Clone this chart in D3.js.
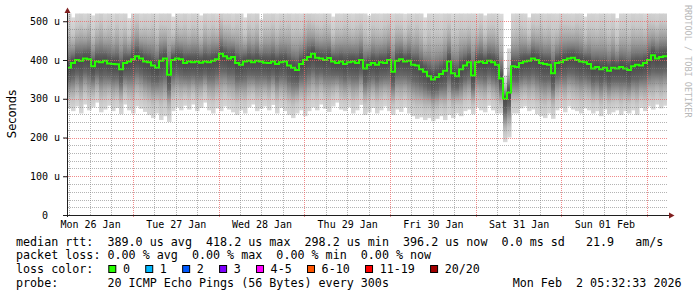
<!DOCTYPE html>
<html>
<head>
<meta charset="utf-8">
<script src="https://cdn.jsdelivr.net/npm/d3@7"></script>
<style>
  body { margin: 0; background: #fff; }
  text { white-space: pre; }
</style>
</head>
<body>
<svg id="chart"></svg>
<script>
const width = 697;
const height = 297;
const plotLeft = 67, plotRight = 667, plotTop = 13.5, plotBottom = 215;
const mono = 'DejaVu Sans Mono, monospace';

const startTime = Date.UTC(2026, 0, 26, 5, 32, 33);
const endTime = Date.UTC(2026, 1, 2, 5, 32, 33);
const yMax = 520;

// median rtt per sample (us), 150 samples over the week
const median = [
  380, 392, 400, 398, 404, 402, 384, 396, 394, 398,
  391, 390, 389, 376, 392, 396, 402, 410, 404, 396,
  394, 386, 380, 398, 404, 362, 400, 404, 402, 392,
  396, 394, 396, 393, 396, 394, 398, 402, 416, 410,
  404, 408, 392, 388, 396, 398, 394, 398, 396, 393,
  392, 396, 390, 394, 396, 386, 380, 374, 390, 400,
  408, 416, 406, 404, 400, 405, 396, 392, 396, 390,
  394, 396, 392, 400, 378, 388, 392, 388, 394, 392,
  400, 370, 398, 402, 396, 398, 388, 386, 376, 370,
  358, 350, 356, 364, 372, 396, 366, 358, 376, 386,
  394, 360, 394, 396, 392, 398, 394, 388, 352, 300,
  316, 384, 382, 392, 396, 398, 404, 400, 392, 390,
  388, 366, 392, 394, 400, 404, 406, 400, 396, 394,
  390, 378, 382, 376, 380, 372, 380, 378, 382, 378,
  374, 384, 388, 386, 392, 400, 412, 404, 408, 410
];

// fastest ping per sample (us)
const pingMin = [
  275, 268, 280, 262, 285, 270, 278, 290, 265, 272,
  282, 268, 276, 260, 285, 270, 262, 280, 274, 266,
  258, 250, 262, 245, 255, 240, 268, 278, 270, 282,
  272, 285, 268, 276, 290, 270, 262, 275, 268, 280,
  272, 265, 258, 270, 262, 278, 285, 268, 274, 280,
  270, 284, 262, 276, 268, 258, 250, 262, 270, 255,
  268, 278, 270, 285, 274, 266, 280, 290, 272, 268,
  278, 262, 270, 284, 258, 265, 276, 262, 270, 280,
  268, 258, 272, 266, 278, 262, 255, 248, 252, 245,
  250, 242, 248, 255, 245, 258, 250, 262, 255, 268,
  272, 260, 278, 270, 265, 282, 270, 262, 262, 188,
  200, 262, 262, 275, 280, 268, 272, 260, 255, 250,
  262, 248, 270, 276, 265, 280, 272, 268, 262, 275,
  270, 262, 268, 255, 272, 260, 265, 270, 258, 268,
  262, 270, 258, 276, 268, 280, 272, 285, 275, 282
];

// slowest ping per sample (us)
const pingMax = [
  540, 510, 535, 545, 530, 550, 515, 540, 560, 530,
  545, 525, 550, 535, 540, 508, 545, 555, 530, 540,
  535, 550, 528, 545, 540, 560, 512, 540, 535, 550,
  530, 545, 540, 515, 550, 535, 545, 530, 560, 540,
  545, 530, 550, 540, 510, 545, 535, 550, 505, 540,
  540, 550, 530, 545, 540, 555, 535, 545, 530, 550,
  560, 545, 540, 535, 550, 545, 512, 540, 535, 550,
  540, 530, 545, 550, 535, 515, 545, 540, 530, 545,
  550, 535, 545, 540, 520, 545, 535, 550, 540, 510,
  545, 535, 540, 530, 545, 550, 525, 540, 545, 535,
  540, 545, 530, 550, 515, 540, 545, 535, 520, 360,
  430, 530, 540, 545, 535, 510, 545, 540, 550, 535,
  545, 540, 530, 550, 545, 540, 535, 550, 545, 512,
  540, 545, 535, 550, 540, 530, 545, 508, 540, 545,
  535, 550, 540, 545, 530, 555, 545, 540, 550, 545
];

const yTickValues = [0, 100, 200, 300, 400, 500];
const yTickLabels = ['0  ', '100 u', '200 u', '300 u', '400 u', '500 u'];

const legendLines = [
  'median rtt:  389.0 us avg  418.2 us max  298.2 us min  396.2 us now  0.0 ms sd   21.9   am/s',
  'packet loss: 0.00 % avg  0.00 % max  0.00 % min  0.00 % now',
  'loss color:',
  'probe:       20 ICMP Echo Pings (56 Bytes) every 300s'
];
const lossLabels = ['0', '1', '2', '3', '4-5', '6-10', '11-19', '20/20'];
const lossColors = ['#26ff00', '#00b8ff', '#0059ff', '#7e00ff', '#ff00ff', '#ff5500', '#ff0000', '#a10000'];
const stampText = 'Mon Feb  2 05:32:33 2026';

const svg = d3.select('#chart')
  .attr('width', width)
  .attr('height', height)
  .style('display', 'block');

svg.append('rect').attr('width', width).attr('height', height).attr('fill', '#fff');

const x = d3.scaleUtc().domain([startTime, endTime]).range([plotLeft, plotRight]);
const y = d3.scaleLinear().domain([0, yMax]).range([plotBottom, plotTop]);

const step = (endTime - startTime) / median.length;
const samples = median.map((m, i) => ({
  t0: new Date(startTime + i * step),
  t1: new Date(startTime + (i + 1) * step),
  med: m,
  lo: pingMin[i],
  hi: pingMax[i]
}));

// smoke gradients: dark near the median, the dark part reaches further down
const defs = svg.append('defs');
const lowStops = [
  [0, '#4a4a4a'], [0.15, '#555555'], [0.3, '#686868'],
  [0.45, '#8a8a8a'], [0.6, '#aaaaaa'], [0.78, '#c6c6c6'], [1, '#d8d8d8']
];
const highStops = [
  [0, '#4a4a4a'], [0.1, '#5a5a5a'], [0.2, '#777777'],
  [0.35, '#9a9a9a'], [0.5, '#b4b4b4'], [0.65, '#c8c8c8'], [1, '#dadada']
];
const gLow = defs.append('linearGradient').attr('id', 'gLow')
  .attr('x1', 0).attr('y1', 0).attr('x2', 0).attr('y2', 1);
gLow.selectAll('stop').data(lowStops).join('stop')
  .attr('offset', d => d[0]).attr('stop-color', d => d[1]);
const gHigh = defs.append('linearGradient').attr('id', 'gHigh')
  .attr('x1', 0).attr('y1', 1).attr('x2', 0).attr('y2', 0);
gHigh.selectAll('stop').data(highStops).join('stop')
  .attr('offset', d => d[0]).attr('stop-color', d => d[1]);

defs.append('clipPath').attr('id', 'plotClip')
  .append('rect')
  .attr('x', plotLeft).attr('y', plotTop)
  .attr('width', plotRight - plotLeft).attr('height', plotBottom - plotTop);

const plot = svg.append('g').attr('clip-path', 'url(#plotClip)');

plot.selectAll('rect.low')
  .data(samples)
  .join('rect')
  .attr('class', 'low')
  .attr('x', d => x(d.t0))
  .attr('width', d => x(d.t1) - x(d.t0) + 0.5)
  .attr('y', d => y(d.med))
  .attr('height', d => y(d.lo) - y(d.med))
  .attr('fill', 'url(#gLow)');

plot.selectAll('rect.high')
  .data(samples)
  .join('rect')
  .attr('class', 'high')
  .attr('x', d => x(d.t0))
  .attr('width', d => x(d.t1) - x(d.t0) + 0.5)
  .attr('y', d => y(d.hi))
  .attr('height', d => y(d.med) - y(d.hi))
  .attr('fill', 'url(#gHigh)');

// grid, drawn as 1px dots so every line comes out the same
const minorColor = 'rgba(130,130,130,0.6)';
const majorColor = 'rgba(235,100,100,0.75)';
const minorY = d3.range(20, yMax, 20).filter(v => v % 100 !== 0);
const days = d3.utcDay.range(new Date(startTime), new Date(endTime));
const sixHours = d3.utcHour.every(6).range(new Date(startTime), new Date(endTime))
  .filter(d => d.getUTCHours() !== 0);

function dotsH(py, x0, x1) {
  return d3.range(x0, x1, 2).map(px => `M${px},${py}h1v1h-1z`).join('');
}
function dotsV(px, y0, y1) {
  return d3.range(y0, y1, 2).map(py => `M${px},${py}h1v1h-1z`).join('');
}

const grid = svg.append('g').attr('stroke', 'none');
grid.selectAll('path.hmin').data(minorY).join('path')
  .attr('class', 'hmin')
  .attr('d', d => dotsH(Math.round(y(d)), plotLeft + 1, plotRight))
  .attr('fill', minorColor);
grid.selectAll('path.vmin').data(sixHours).join('path')
  .attr('class', 'vmin')
  .attr('d', d => dotsV(Math.round(x(d)), 14, plotBottom))
  .attr('fill', minorColor);
grid.selectAll('path.hmaj').data(yTickValues.filter(v => v > 0)).join('path')
  .attr('class', 'hmaj')
  .attr('d', d => dotsH(Math.round(y(d)), plotLeft - 3, plotRight))
  .attr('fill', majorColor);
grid.selectAll('path.vmaj').data(days).join('path')
  .attr('class', 'vmaj')
  .attr('d', d => dotsV(Math.round(x(d)), 14, plotBottom + 3))
  .attr('fill', majorColor);

// median line
const medPoints = samples.map(d => [d.t0, d.med]);
medPoints.push([new Date(endTime), median[median.length - 1]]);
plot.append('path')
  .datum(medPoints)
  .attr('fill', 'none')
  .attr('stroke', lossColors[0])
  .attr('stroke-width', 2)
  .attr('d', d3.line().x(d => x(d[0])).y(d => y(d[1])).curve(d3.curveStepAfter));

// axes
const yAxis = svg.append('g')
  .attr('transform', `translate(${plotLeft},0)`)
  .call(d3.axisLeft(y).tickValues(yTickValues).tickFormat((d, i) => yTickLabels[i])
    .tickSize(4).tickSizeOuter(0).tickPadding(3));
yAxis.select('.domain').remove();
yAxis.selectAll('.tick line').attr('stroke', '#1f1f1f');
yAxis.selectAll('.tick text').attr('font-family', mono).attr('font-size', 10).attr('fill', '#000');

const noons = [d3.utcDay.floor(new Date(startTime))].concat(days)
  .map(d => d3.utcHour.offset(d, 12))
  .filter(d => d >= startTime && d < endTime);
const xAxis = svg.append('g')
  .attr('transform', `translate(0,${plotBottom})`)
  .call(d3.axisBottom(x).tickValues(noons).tickFormat(d3.utcFormat('%a %d %b'))
    .tickSize(0).tickPadding(6));
xAxis.select('.domain').remove();
xAxis.selectAll('.tick text').attr('font-family', mono).attr('font-size', 10).attr('fill', '#000');

svg.append('line')
  .attr('x1', 63).attr('x2', plotRight + 2).attr('y1', plotBottom + 0.5).attr('y2', plotBottom + 0.5)
  .attr('stroke', '#1f1f1f');
svg.append('line')
  .attr('x1', plotLeft + 0.5).attr('x2', plotLeft + 0.5).attr('y1', plotBottom + 2).attr('y2', 12)
  .attr('stroke', '#1f1f1f');
svg.append('path')
  .attr('d', `M${plotRight + 2},${plotBottom - 2.5}L${plotRight + 7.5},${plotBottom + 0.5}L${plotRight + 2},${plotBottom + 3.5}Z`)
  .attr('fill', '#801f1f');
svg.append('path')
  .attr('d', `M${plotLeft - 2.5},13L${plotLeft + 0.5},7.5L${plotLeft + 3.5},13Z`)
  .attr('fill', '#801f1f');

// titles
svg.append('text')
  .attr('transform', 'translate(15.5,114) rotate(-90)')
  .attr('text-anchor', 'middle')
  .attr('font-family', 'DejaVu Sans, sans-serif')
  .attr('font-size', 11.5)
  .attr('fill', '#000')
  .text('Seconds');

svg.append('text')
  .attr('transform', 'translate(684.5,5) rotate(90)')
  .attr('font-family', mono)
  .attr('font-size', 8.5)
  .attr('fill', '#b8b8b8')
  .text('RRDTOOL / TOBI OETIKER');

// legend
const legendY = [245.7, 259.3, 273.3, 287.3];
svg.selectAll('text.legend')
  .data(legendLines)
  .join('text')
  .attr('class', 'legend')
  .attr('x', 16)
  .attr('y', (d, i) => legendY[i])
  .attr('font-family', mono)
  .attr('font-size', 11.7)
  .attr('fill', '#000')
  .text(d => d);

svg.append('text')
  .attr('x', 512.7)
  .attr('y', legendY[3])
  .attr('font-family', mono)
  .attr('font-size', 11.7)
  .attr('fill', '#000')
  .text(stampText);

let boxX = 108.3;
lossLabels.forEach((label, i) => {
  svg.append('rect')
    .attr('x', boxX + 0.5).attr('y', 265.5)
    .attr('width', 7).attr('height', 7)
    .attr('fill', lossColors[i])
    .attr('stroke', '#000');
  svg.append('text')
    .attr('x', boxX + 14.6)
    .attr('y', legendY[2])
    .attr('font-family', mono)
    .attr('font-size', 11.7)
    .attr('fill', '#000')
    .text(label);
  boxX += 29.9 + label.length * 7.03;
});
</script>
</body>
</html>
